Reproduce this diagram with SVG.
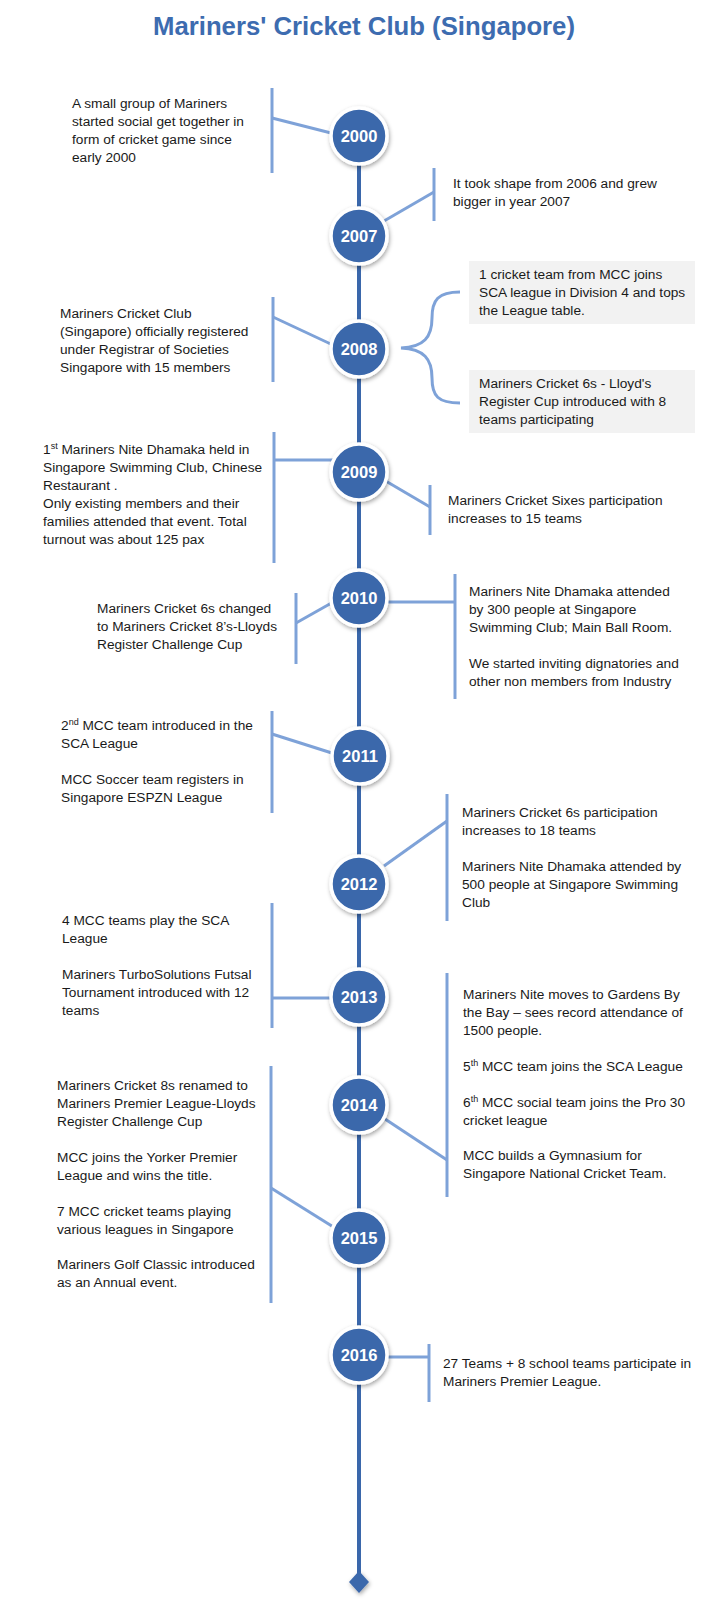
<svg xmlns="http://www.w3.org/2000/svg" width="722" height="1616" viewBox="0 0 722 1616">
<defs>
<style>
.t{font-family:"Liberation Sans",Arial,sans-serif;font-size:13.7px;fill:#1a1a1a}
.yr{font-family:"Liberation Sans",Arial,sans-serif;font-size:16.5px;font-weight:bold;fill:#ffffff;text-anchor:middle}
.ttl{font-family:"Liberation Sans",Arial,sans-serif;font-size:26px;font-weight:bold;fill:#3d6cb0;text-anchor:middle}
.c{fill:none;stroke:#7ea2d8;stroke-width:3}
.dot{fill:#3a67ab;stroke:#ffffff;stroke-width:3.5;filter:url(#sh)}
.box{fill:#f2f2f2}
.sup{font-size:9px}
</style>
<filter id="sh" x="-30%" y="-30%" width="160%" height="160%">
<feDropShadow dx="1" dy="2" stdDeviation="2" flood-color="#000" flood-opacity="0.35"/>
</filter>
</defs>
<rect width="722" height="1616" fill="#ffffff"/>
<text class="ttl" x="364" y="35" textLength="422" lengthAdjust="spacingAndGlyphs">Mariners' Cricket Club (Singapore)</text>

<g id="spine">
<line x1="359" y1="137" x2="359" y2="1580" stroke="#3a67ab" stroke-width="4"/>
<polygon points="359,1571 369,1582 359,1593 349,1582" fill="#3a67ab" filter="url(#sh)"/>
</g>

<g id="connectors">
<polyline class="c" points="272,88 272,173"/>
<line class="c" x1="272" y1="118" x2="335" y2="134"/>
<polyline class="c" points="434,168 434,221"/>
<line class="c" x1="384" y1="221" x2="434" y2="192"/>
<polyline class="c" points="273,297 273,382"/>
<line class="c" x1="273" y1="317" x2="335" y2="346"/>
<path class="c" d="M460,292 C438,292 432,300 432,318 C432,337 424,347 401,348 C424,349 432,359 432,378 C432,396 438,403 460,403"/>
<polyline class="c" points="274,432 274,563"/>
<line class="c" x1="274" y1="460" x2="335" y2="460"/>
<line class="c" x1="384" y1="480" x2="430" y2="507"/>
<polyline class="c" points="430,485 430,535"/>
<polyline class="c" points="296,593 296,664"/>
<line class="c" x1="296" y1="623" x2="335" y2="601"/>
<line class="c" x1="384" y1="602" x2="455" y2="602"/>
<polyline class="c" points="455,574 455,699"/>
<polyline class="c" points="272,711 272,813"/>
<line class="c" x1="272" y1="734" x2="335" y2="754"/>
<line class="c" x1="384" y1="866" x2="447" y2="821"/>
<polyline class="c" points="447,794 447,921"/>
<polyline class="c" points="272,903 272,1028"/>
<line class="c" x1="272" y1="998" x2="335" y2="998"/>
<line class="c" x1="385" y1="1119" x2="447" y2="1160"/>
<polyline class="c" points="447,973 447,1197"/>
<polyline class="c" points="271,1066 271,1303"/>
<line class="c" x1="271" y1="1188" x2="335" y2="1228"/>
<line class="c" x1="384" y1="1357" x2="429" y2="1357"/>
<polyline class="c" points="429,1344 429,1402"/>
</g>

<g id="y2000">
<circle class="dot" cx="359" cy="136" r="28"/>
<text class="yr" x="359" y="142">2000</text>
<text class="t" x="72" y="108">A small group of Mariners</text>
<text class="t" x="72" y="126">started social get together in</text>
<text class="t" x="72" y="144">form of cricket game since</text>
<text class="t" x="72" y="162">early 2000</text>
</g>

<g id="y2007">
<circle class="dot" cx="359" cy="236" r="28"/>
<text class="yr" x="359" y="242">2007</text>
<text class="t" x="453" y="188">It took shape from 2006 and grew</text>
<text class="t" x="453" y="206">bigger in year 2007</text>
</g>

<g id="y2008">
<circle class="dot" cx="359" cy="349" r="28"/>
<text class="yr" x="359" y="355">2008</text>
<text class="t" x="60" y="318">Mariners Cricket Club</text>
<text class="t" x="60" y="336">(Singapore) officially registered</text>
<text class="t" x="60" y="354">under Registrar of Societies</text>
<text class="t" x="60" y="372">Singapore with 15 members</text>
<rect class="box" x="469" y="261" width="226" height="63"/>
<text class="t" x="479" y="279">1 cricket team from MCC  joins</text>
<text class="t" x="479" y="297">SCA league in Division 4 and tops</text>
<text class="t" x="479" y="315">the League table.</text>
<rect class="box" x="469" y="370" width="226" height="63"/>
<text class="t" x="479" y="388">Mariners Cricket 6s - Lloyd's</text>
<text class="t" x="479" y="406">Register Cup introduced with 8</text>
<text class="t" x="479" y="424">teams participating</text>
</g>

<g id="y2009">
<circle class="dot" cx="359" cy="472" r="28"/>
<text class="yr" x="359" y="478">2009</text>
<text class="t" x="43" y="454">1<tspan class="sup" dy="-5">st</tspan><tspan dy="5"> Mariners Nite Dhamaka held in</tspan></text>
<text class="t" x="43" y="472">Singapore Swimming Club, Chinese</text>
<text class="t" x="43" y="490">Restaurant .</text>
<text class="t" x="43" y="508">Only existing members and their</text>
<text class="t" x="43" y="526">families attended that event. Total</text>
<text class="t" x="43" y="544">turnout was about 125 pax</text>
<text class="t" x="448" y="505">Mariners Cricket Sixes participation</text>
<text class="t" x="448" y="523">increases to 15 teams</text>
</g>

<g id="y2010">
<circle class="dot" cx="359" cy="598" r="28"/>
<text class="yr" x="359" y="604">2010</text>
<text class="t" x="97" y="613">Mariners Cricket 6s changed</text>
<text class="t" x="97" y="631">to Mariners Cricket 8’s-Lloyds</text>
<text class="t" x="97" y="649">Register Challenge Cup</text>
<text class="t" x="469" y="596">Mariners Nite Dhamaka attended</text>
<text class="t" x="469" y="614">by 300 people at Singapore</text>
<text class="t" x="469" y="632">Swimming Club; Main Ball Room.</text>
<text class="t" x="469" y="668">We started inviting dignatories and</text>
<text class="t" x="469" y="686">other non members from Industry</text>
</g>

<g id="y2011">
<circle class="dot" cx="360" cy="756" r="28"/>
<text class="yr" x="360" y="762">2011</text>
<text class="t" x="61" y="730">2<tspan class="sup" dy="-5">nd</tspan><tspan dy="5"> MCC team introduced in the</tspan></text>
<text class="t" x="61" y="748">SCA League</text>
<text class="t" x="61" y="784">MCC Soccer team  registers in</text>
<text class="t" x="61" y="802">Singapore ESPZN League</text>
</g>

<g id="y2012">
<circle class="dot" cx="359" cy="884" r="28"/>
<text class="yr" x="359" y="890">2012</text>
<text class="t" x="462" y="817">Mariners Cricket 6s participation</text>
<text class="t" x="462" y="835">increases to 18 teams</text>
<text class="t" x="462" y="871">Mariners Nite Dhamaka attended by</text>
<text class="t" x="462" y="889">500 people at Singapore Swimming</text>
<text class="t" x="462" y="907">Club</text>
</g>

<g id="y2013">
<circle class="dot" cx="359" cy="997" r="28"/>
<text class="yr" x="359" y="1003">2013</text>
<text class="t" x="62" y="925">4 MCC teams play the SCA</text>
<text class="t" x="62" y="943">League</text>
<text class="t" x="62" y="979">Mariners TurboSolutions Futsal</text>
<text class="t" x="62" y="997">Tournament introduced with 12</text>
<text class="t" x="62" y="1015">teams</text>
<text class="t" x="463" y="999">Mariners Nite moves to Gardens By</text>
<text class="t" x="463" y="1017">the Bay – sees record attendance of</text>
<text class="t" x="463" y="1035">1500 people.</text>
</g>

<g id="y2014">
<circle class="dot" cx="359" cy="1105" r="28"/>
<text class="yr" x="359" y="1111">2014</text>
<text class="t" x="463" y="1071">5<tspan class="sup" dy="-5">th</tspan><tspan dy="5"> MCC team joins the SCA League</tspan></text>
<text class="t" x="463" y="1107">6<tspan class="sup" dy="-5">th</tspan><tspan dy="5"> MCC social team joins the Pro 30</tspan></text>
<text class="t" x="463" y="1125">cricket league</text>
<text class="t" x="463" y="1160">MCC builds a Gymnasium for</text>
<text class="t" x="463" y="1178">Singapore National Cricket Team.</text>
<text class="t" x="57" y="1090">Mariners Cricket 8s renamed to</text>
<text class="t" x="57" y="1108">Mariners Premier League-Lloyds</text>
<text class="t" x="57" y="1126">Register Challenge Cup</text>
</g>

<g id="y2015">
<circle class="dot" cx="359" cy="1238" r="28"/>
<text class="yr" x="359" y="1244">2015</text>
<text class="t" x="57" y="1162">MCC joins the Yorker Premier</text>
<text class="t" x="57" y="1180">League and wins the title.</text>
<text class="t" x="57" y="1216">7 MCC cricket teams playing</text>
<text class="t" x="57" y="1234">various leagues in Singapore</text>
<text class="t" x="57" y="1269">Mariners Golf Classic introduced</text>
<text class="t" x="57" y="1287">as an Annual event.</text>
</g>

<g id="y2016">
<circle class="dot" cx="359" cy="1355" r="28"/>
<text class="yr" x="359" y="1361">2016</text>
<text class="t" x="443" y="1368">27 Teams + 8 school teams participate in</text>
<text class="t" x="443" y="1386">Mariners Premier League.</text>
</g>
</svg>
